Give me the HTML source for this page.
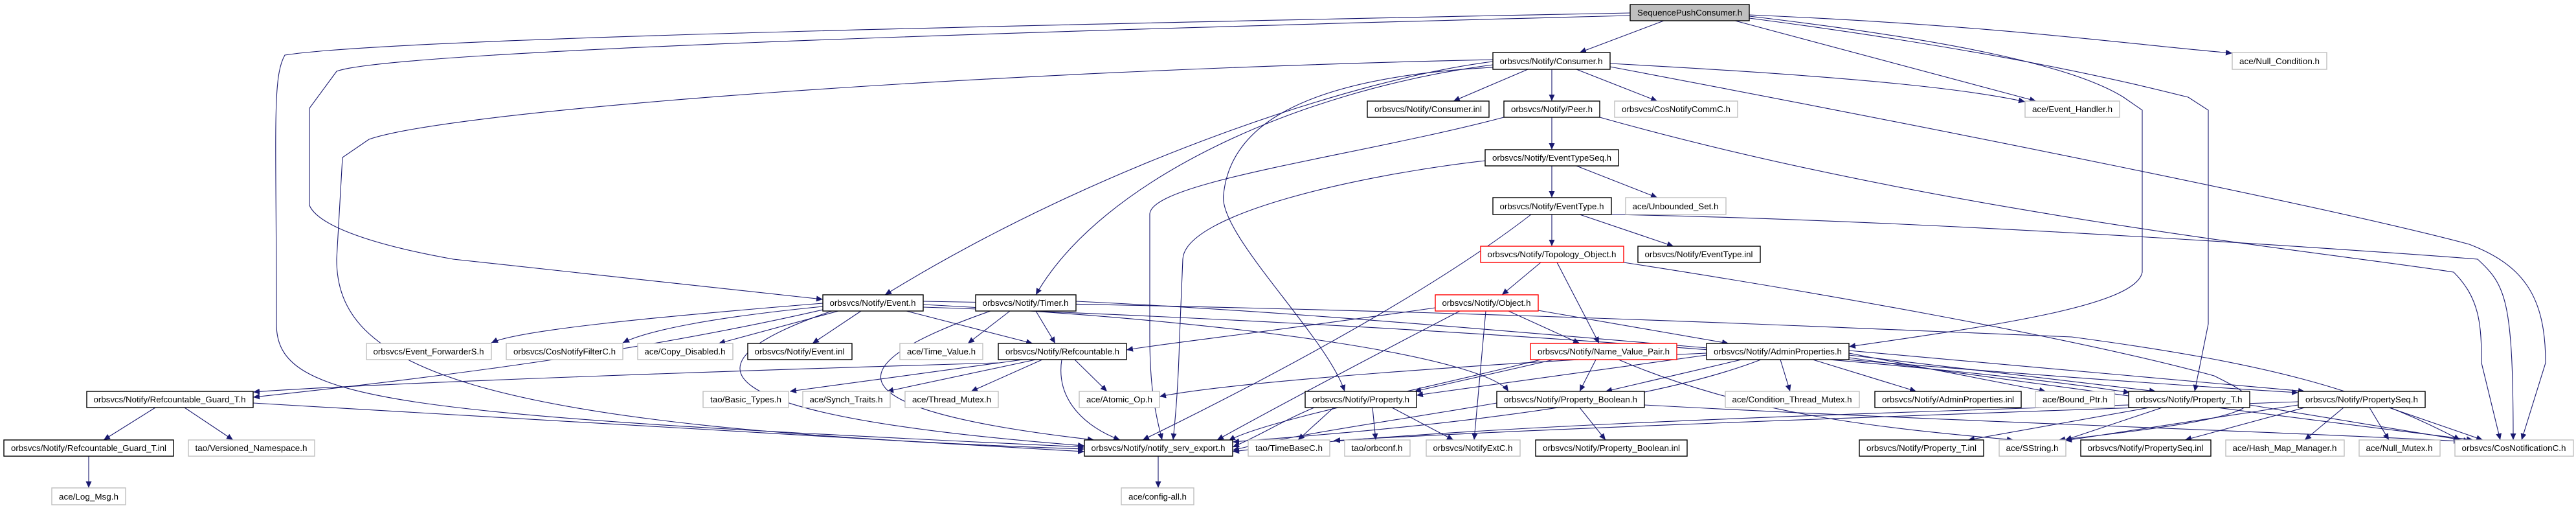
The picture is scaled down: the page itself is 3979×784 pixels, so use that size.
<!DOCTYPE html>
<html><head><meta charset="utf-8"><style>
html,body{margin:0;padding:0;background:#fff;}
svg{display:block;}
.e{fill:none;stroke:#191970;stroke-width:1.1;marker-end:url(#a);}
.n rect{fill:#fff;stroke:#000;stroke-width:1.4;}
.g rect{fill:#fff;stroke:#bfbfbf;stroke-width:1.4;}
.r rect{fill:#fff;stroke:#ff0000;stroke-width:1.4;}
text{font-family:"Liberation Sans",sans-serif;font-size:13px;fill:#000;text-anchor:middle;}
</style></head><body>
<svg width="3979" height="784" viewBox="0 0 3979 784" xmlns="http://www.w3.org/2000/svg">
<defs><marker id="a" markerUnits="userSpaceOnUse" markerWidth="11" markerHeight="9" refX="10" refY="4.5" orient="auto"><path d="M0,0 L10,4.5 L0,9 z" fill="#191970"/></marker></defs>
<g>
<path class="e" d="M2518,20 C1500,40 600,60 440,85 C420,120 427,200 427,500 C427,620 600,640 1675,690"/>
<path class="e" d="M2518,24 C1500,50 600,80 520,110 L478,167 L478,317 C490,345 560,375 700,400 L1271,462"/>
<path class="e" d="M2306,92 C1500,110 700,170 570,215 L529,243 L520,400 C520,560 700,660 1675,693"/>
<path class="e" d="M2306,95 C2100,120 1700,250 1367,455"/>
<path class="e" d="M2306,100 C2000,140 1700,280 1600,455"/>
<path class="e" d="M2306,104 C2000,120 1900,200 1890,300 C1880,360 2050,520 2077,604"/>
<path class="e" d="M2323,181 C2100,240 1780,280 1776,330 L1776,520 C1776,600 1785,640 1795,679"/>
<path class="e" d="M2294,248 C2100,270 1830,330 1827,400 L1822,520 C1820,600 1815,650 1812,679"/>
<path class="e" d="M2702,25 C3000,60 3200,100 3280,150 L3309,170 L3309,420 C3300,470 3100,500 2856,535"/>
<path class="e" d="M2702,28 C3100,80 3300,130 3380,150 L3411,170 L3411,500 L3390,604"/>
<path class="e" d="M2487,103 C3000,200 3600,320 3814,377 C3900,410 3932,460 3932,560 L3895,679"/>
<path class="e" d="M2471,181 C3000,330 3600,390 3790,420 C3830,460 3833,500 3833,560 L3862,679"/>
<path class="e" d="M2489,331 C3000,340 3700,390 3827,400 C3870,440 3882,460 3882,679"/>
<path class="e" d="M2508,405 C2800,450 3200,520 3420,580 C3500,620 3540,640 3180,679"/>
<path class="e" d="M2487,98 C2900,120 3050,140 3128,157"/>
<path class="e" d="M2680,32 L3145,156"/>
<path class="e" d="M2702,23 C3100,40 3300,70 3448,82"/>
<path class="e" d="M2570,32 L2440,81"/>
<path class="e" d="M2360,107 L2245,156"/>
<path class="e" d="M2397,107 L2397,156"/>
<path class="e" d="M2435,107 L2560,156"/>
<path class="e" d="M2397,181 L2397,231"/>
<path class="e" d="M2397,256 L2397,305"/>
<path class="e" d="M2435,256 L2560,305"/>
<path class="e" d="M2397,331 L2397,380"/>
<path class="e" d="M2440,331 L2585,380"/>
<path class="e" d="M2365,331 C2250,420 2050,540 1765,679"/>
<path class="e" d="M2380,405 L2320,455"/>
<path class="e" d="M2405,405 L2470,530"/>
<path class="e" d="M2217,475 C1900,520 1800,530 1740,540"/>
<path class="e" d="M2330,480 L2440,530"/>
<path class="e" d="M2370,478 L2670,530"/>
<path class="e" d="M2295,480 L2277,679"/>
<path class="e" d="M2255,480 C2100,560 1950,640 1880,679"/>
<path class="e" d="M1271,468 C1000,490 800,510 759,529"/>
<path class="e" d="M1271,473 C1100,490 1000,510 962,529"/>
<path class="e" d="M1295,480 L1110,530"/>
<path class="e" d="M1330,480 L1255,530"/>
<path class="e" d="M1400,480 L1595,530"/>
<path class="e" d="M1271,478 C1000,540 700,580 391,613"/>
<path class="e" d="M1285,480 C1050,560 1060,640 1675,688"/>
<path class="e" d="M1426,470 C2000,500 2300,560 2330,604"/>
<path class="e" d="M1426,474 C2200,500 3000,560 3290,606"/>
<path class="e" d="M1426,465 C2300,480 2700,500 3200,520 C3500,560 3650,600 3800,679"/>
<path class="e" d="M1560,480 L1495,530"/>
<path class="e" d="M1600,480 L1630,530"/>
<path class="e" d="M1530,480 C1300,560 1260,630 1690,679"/>
<path class="e" d="M1662,465 C2200,490 2800,560 3550,606"/>
<path class="e" d="M1580,555 L1220,604"/>
<path class="e" d="M1600,555 L1370,604"/>
<path class="e" d="M1610,555 L1500,604"/>
<path class="e" d="M1660,555 L1710,604"/>
<path class="e" d="M1640,555 C1630,620 1680,660 1730,679"/>
<path class="e" d="M1542,560 C1200,570 600,590 391,605"/>
<path class="e" d="M2400,555 L2185,604"/>
<path class="e" d="M2465,555 L2440,604"/>
<path class="e" d="M2380,555 C2200,600 1950,650 1898,680"/>
<path class="e" d="M2500,555 C2700,640 2900,660 3110,679"/>
<path class="e" d="M2636,548 L2188,610"/>
<path class="e" d="M2690,555 L2480,604"/>
<path class="e" d="M2750,555 L2765,604"/>
<path class="e" d="M2800,555 L2960,604"/>
<path class="e" d="M2856,545 L3160,604"/>
<path class="e" d="M2856,548 L3330,604"/>
<path class="e" d="M2856,541 L3560,604"/>
<path class="e" d="M2636,545 C2300,560 1900,590 1791,612"/>
<path class="e" d="M2720,555 C2500,640 2050,670 1904,682"/>
<path class="e" d="M2856,552 C3200,600 3500,640 3820,679"/>
<path class="e" d="M2060,629 L2005,679"/>
<path class="e" d="M2120,629 L2125,679"/>
<path class="e" d="M2150,629 L2245,679"/>
<path class="e" d="M2030,629 C1980,650 1950,670 1904,690"/>
<path class="e" d="M2440,629 L2480,679"/>
<path class="e" d="M2312,622 C2150,650 2000,670 1904,695"/>
<path class="e" d="M2540,625 C3000,650 3500,665 3800,681"/>
<path class="e" d="M3320,629 L3040,679"/>
<path class="e" d="M3340,629 L3190,679"/>
<path class="e" d="M3288,625 C2800,640 2200,660 1904,697"/>
<path class="e" d="M3475,625 L3815,681"/>
<path class="e" d="M3560,629 L3375,679"/>
<path class="e" d="M3620,629 L3560,679"/>
<path class="e" d="M3660,629 L3690,679"/>
<path class="e" d="M3690,629 L3835,679"/>
<path class="e" d="M3550,625 L3190,680"/>
<path class="e" d="M3550,620 C3000,640 2400,660 2060,680"/>
<path class="e" d="M240,629 L160,679"/>
<path class="e" d="M285,629 L360,679"/>
<path class="e" d="M391,622 L1675,697"/>
<path class="e" d="M137,704 L137,753"/>
<path class="e" d="M1789,704 L1789,753"/>
</g>
<g class="n"><rect x="2518" y="7" width="184" height="25" style="fill:#bfbfbf"/><text x="2610" y="24" textLength="162" lengthAdjust="spacingAndGlyphs">SequencePushConsumer.h</text></g>
<g class="n"><rect x="2306" y="81" width="181" height="26"/><text x="2396" y="99" textLength="159" lengthAdjust="spacingAndGlyphs">orbsvcs/Notify/Consumer.h</text></g>
<g class="n"><rect x="2112" y="156" width="188" height="25"/><text x="2206" y="173" textLength="166" lengthAdjust="spacingAndGlyphs">orbsvcs/Notify/Consumer.inl</text></g>
<g class="n"><rect x="2323" y="156" width="148" height="25"/><text x="2397" y="173" textLength="126" lengthAdjust="spacingAndGlyphs">orbsvcs/Notify/Peer.h</text></g>
<g class="g"><rect x="2494" y="156" width="190" height="25"/><text x="2589" y="173" textLength="168" lengthAdjust="spacingAndGlyphs">orbsvcs/CosNotifyCommC.h</text></g>
<g class="g"><rect x="3448" y="81" width="146" height="26"/><text x="3521" y="99" textLength="124" lengthAdjust="spacingAndGlyphs">ace/Null_Condition.h</text></g>
<g class="g"><rect x="3128" y="156" width="146" height="25"/><text x="3201" y="173" textLength="124" lengthAdjust="spacingAndGlyphs">ace/Event_Handler.h</text></g>
<g class="n"><rect x="2294" y="231" width="206" height="25"/><text x="2397" y="248" textLength="184" lengthAdjust="spacingAndGlyphs">orbsvcs/Notify/EventTypeSeq.h</text></g>
<g class="n"><rect x="2306" y="305" width="183" height="26"/><text x="2397" y="323" textLength="161" lengthAdjust="spacingAndGlyphs">orbsvcs/Notify/EventType.h</text></g>
<g class="g"><rect x="2511" y="305" width="155" height="26"/><text x="2588" y="323" textLength="133" lengthAdjust="spacingAndGlyphs">ace/Unbounded_Set.h</text></g>
<g class="r"><rect x="2287" y="380" width="221" height="25"/><text x="2397" y="397" textLength="199" lengthAdjust="spacingAndGlyphs">orbsvcs/Notify/Topology_Object.h</text></g>
<g class="n"><rect x="2530" y="380" width="189" height="25"/><text x="2624" y="397" textLength="167" lengthAdjust="spacingAndGlyphs">orbsvcs/Notify/EventType.inl</text></g>
<g class="r"><rect x="2217" y="455" width="159" height="25"/><text x="2296" y="472" textLength="137" lengthAdjust="spacingAndGlyphs">orbsvcs/Notify/Object.h</text></g>
<g class="n"><rect x="1271" y="455" width="155" height="25"/><text x="1348" y="472" textLength="133" lengthAdjust="spacingAndGlyphs">orbsvcs/Notify/Event.h</text></g>
<g class="n"><rect x="1507" y="455" width="155" height="25"/><text x="1584" y="472" textLength="133" lengthAdjust="spacingAndGlyphs">orbsvcs/Notify/Timer.h</text></g>
<g class="g"><rect x="566" y="530" width="193" height="25"/><text x="662" y="547" textLength="171" lengthAdjust="spacingAndGlyphs">orbsvcs/Event_ForwarderS.h</text></g>
<g class="g"><rect x="782" y="530" width="180" height="25"/><text x="872" y="547" textLength="158" lengthAdjust="spacingAndGlyphs">orbsvcs/CosNotifyFilterC.h</text></g>
<g class="g"><rect x="985" y="530" width="147" height="25"/><text x="1058" y="547" textLength="125" lengthAdjust="spacingAndGlyphs">ace/Copy_Disabled.h</text></g>
<g class="n"><rect x="1155" y="530" width="161" height="25"/><text x="1235" y="547" textLength="139" lengthAdjust="spacingAndGlyphs">orbsvcs/Notify/Event.inl</text></g>
<g class="g"><rect x="1390" y="530" width="128" height="25"/><text x="1454" y="547" textLength="106" lengthAdjust="spacingAndGlyphs">ace/Time_Value.h</text></g>
<g class="n"><rect x="1542" y="530" width="198" height="25"/><text x="1641" y="547" textLength="176" lengthAdjust="spacingAndGlyphs">orbsvcs/Notify/Refcountable.h</text></g>
<g class="r"><rect x="2364" y="530" width="226" height="25"/><text x="2477" y="547" textLength="204" lengthAdjust="spacingAndGlyphs">orbsvcs/Notify/Name_Value_Pair.h</text></g>
<g class="n"><rect x="2636" y="530" width="220" height="25"/><text x="2746" y="547" textLength="198" lengthAdjust="spacingAndGlyphs">orbsvcs/Notify/AdminProperties.h</text></g>
<g class="n"><rect x="134" y="604" width="257" height="25"/><text x="262" y="621" textLength="235" lengthAdjust="spacingAndGlyphs">orbsvcs/Notify/Refcountable_Guard_T.h</text></g>
<g class="g"><rect x="1086" y="604" width="132" height="25"/><text x="1152" y="621" textLength="110" lengthAdjust="spacingAndGlyphs">tao/Basic_Types.h</text></g>
<g class="g"><rect x="1240" y="604" width="135" height="25"/><text x="1307" y="621" textLength="113" lengthAdjust="spacingAndGlyphs">ace/Synch_Traits.h</text></g>
<g class="g"><rect x="1398" y="604" width="144" height="25"/><text x="1470" y="621" textLength="122" lengthAdjust="spacingAndGlyphs">ace/Thread_Mutex.h</text></g>
<g class="g"><rect x="1667" y="604" width="124" height="25"/><text x="1729" y="621" textLength="102" lengthAdjust="spacingAndGlyphs">ace/Atomic_Op.h</text></g>
<g class="n"><rect x="2016" y="604" width="172" height="25"/><text x="2102" y="621" textLength="150" lengthAdjust="spacingAndGlyphs">orbsvcs/Notify/Property.h</text></g>
<g class="n"><rect x="2312" y="604" width="228" height="25"/><text x="2426" y="621" textLength="206" lengthAdjust="spacingAndGlyphs">orbsvcs/Notify/Property_Boolean.h</text></g>
<g class="g"><rect x="2665" y="604" width="207" height="25"/><text x="2768" y="621" textLength="185" lengthAdjust="spacingAndGlyphs">ace/Condition_Thread_Mutex.h</text></g>
<g class="n"><rect x="2896" y="604" width="226" height="25"/><text x="3009" y="621" textLength="204" lengthAdjust="spacingAndGlyphs">orbsvcs/Notify/AdminProperties.inl</text></g>
<g class="g"><rect x="3144" y="604" width="122" height="25"/><text x="3205" y="621" textLength="100" lengthAdjust="spacingAndGlyphs">ace/Bound_Ptr.h</text></g>
<g class="n"><rect x="3288" y="604" width="187" height="25"/><text x="3381" y="621" textLength="165" lengthAdjust="spacingAndGlyphs">orbsvcs/Notify/Property_T.h</text></g>
<g class="n"><rect x="3550" y="604" width="196" height="25"/><text x="3648" y="621" textLength="174" lengthAdjust="spacingAndGlyphs">orbsvcs/Notify/PropertySeq.h</text></g>
<g class="n"><rect x="6" y="679" width="262" height="25"/><text x="137" y="696" textLength="240" lengthAdjust="spacingAndGlyphs">orbsvcs/Notify/Refcountable_Guard_T.inl</text></g>
<g class="g"><rect x="291" y="679" width="195" height="25"/><text x="388" y="696" textLength="173" lengthAdjust="spacingAndGlyphs">tao/Versioned_Namespace.h</text></g>
<g class="n"><rect x="1675" y="679" width="229" height="25"/><text x="1789" y="696" textLength="207" lengthAdjust="spacingAndGlyphs">orbsvcs/Notify/notify_serv_export.h</text></g>
<g class="g"><rect x="1928" y="679" width="126" height="25"/><text x="1991" y="696" textLength="104" lengthAdjust="spacingAndGlyphs">tao/TimeBaseC.h</text></g>
<g class="g"><rect x="2077" y="679" width="101" height="25"/><text x="2127" y="696" textLength="79" lengthAdjust="spacingAndGlyphs">tao/orbconf.h</text></g>
<g class="g"><rect x="2203" y="679" width="145" height="25"/><text x="2275" y="696" textLength="123" lengthAdjust="spacingAndGlyphs">orbsvcs/NotifyExtC.h</text></g>
<g class="n"><rect x="2372" y="679" width="234" height="25"/><text x="2489" y="696" textLength="212" lengthAdjust="spacingAndGlyphs">orbsvcs/Notify/Property_Boolean.inl</text></g>
<g class="n"><rect x="2872" y="679" width="192" height="25"/><text x="2968" y="696" textLength="170" lengthAdjust="spacingAndGlyphs">orbsvcs/Notify/Property_T.inl</text></g>
<g class="g"><rect x="3088" y="679" width="103" height="25"/><text x="3139" y="696" textLength="81" lengthAdjust="spacingAndGlyphs">ace/SString.h</text></g>
<g class="n"><rect x="3214" y="679" width="201" height="25"/><text x="3314" y="696" textLength="179" lengthAdjust="spacingAndGlyphs">orbsvcs/Notify/PropertySeq.inl</text></g>
<g class="g"><rect x="3438" y="679" width="183" height="25"/><text x="3529" y="696" textLength="161" lengthAdjust="spacingAndGlyphs">ace/Hash_Map_Manager.h</text></g>
<g class="g"><rect x="3644" y="679" width="125" height="25"/><text x="3706" y="696" textLength="103" lengthAdjust="spacingAndGlyphs">ace/Null_Mutex.h</text></g>
<g class="g"><rect x="3792" y="679" width="183" height="25"/><text x="3883" y="696" textLength="161" lengthAdjust="spacingAndGlyphs">orbsvcs/CosNotificationC.h</text></g>
<g class="g"><rect x="80" y="753" width="114" height="26"/><text x="137" y="771" textLength="92" lengthAdjust="spacingAndGlyphs">ace/Log_Msg.h</text></g>
<g class="g"><rect x="1732" y="753" width="112" height="26"/><text x="1788" y="771" textLength="90" lengthAdjust="spacingAndGlyphs">ace/config-all.h</text></g>
</svg>
</body></html>
